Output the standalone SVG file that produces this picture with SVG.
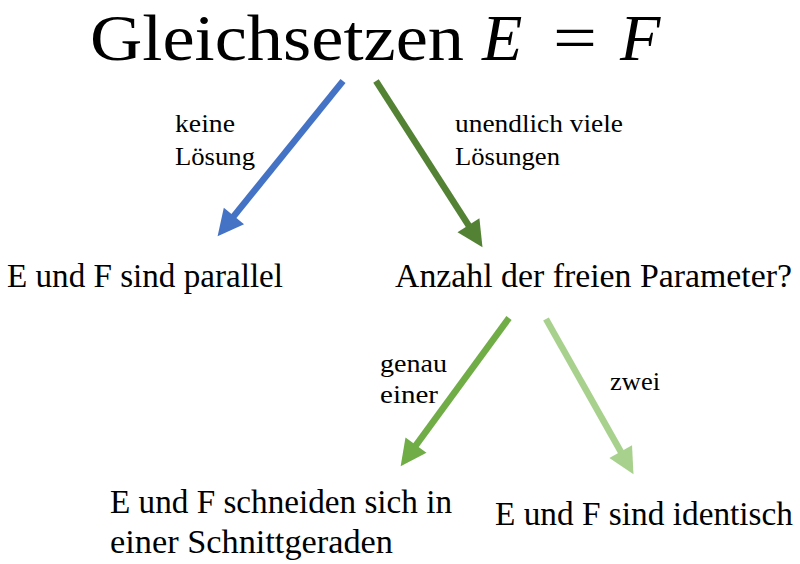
<svg xmlns="http://www.w3.org/2000/svg" width="800" height="564" viewBox="0 0 800 564">
<style>
text{font-family:"Liberation Serif","DejaVu Serif",serif;fill:#000}
.t{font-size:66px}
.m{font-style:italic}
.n{font-size:34px}
.l{font-size:25px}
.a{stroke-width:6.5;fill:none;stroke-linecap:butt}
</style>
<defs>
<marker id="hb" markerUnits="userSpaceOnUse" markerWidth="30" markerHeight="30" refX="1" refY="13" orient="auto" overflow="visible"><path d="M0,0 L26,13 L0,26 Z" fill="#4472C4"/></marker>
<marker id="hd" markerUnits="userSpaceOnUse" markerWidth="30" markerHeight="30" refX="1" refY="13" orient="auto" overflow="visible"><path d="M0,0 L26,13 L0,26 Z" fill="#548235"/></marker>
<marker id="hm" markerUnits="userSpaceOnUse" markerWidth="30" markerHeight="30" refX="1" refY="13" orient="auto" overflow="visible"><path d="M0,0 L26,13 L0,26 Z" fill="#70AD47"/></marker>
<marker id="hl" markerUnits="userSpaceOnUse" markerWidth="30" markerHeight="30" refX="1" refY="13" orient="auto" overflow="visible"><path d="M0,0 L26,13 L0,26 Z" fill="#A9D18E"/></marker>
</defs>
<rect width="800" height="564" fill="#fff"/>
<g id="title">
<text class="t" x="90" y="60" textLength="374" lengthAdjust="spacingAndGlyphs">Gleichsetzen</text>
<text class="t m" x="482" y="60">E</text>
<text class="t" x="553" y="60" textLength="44" lengthAdjust="spacingAndGlyphs">=</text>
<text class="t m" x="620" y="60">F</text>
</g>
<g id="connectors">
<line class="a" x1="343" y1="81" x2="233.3" y2="216.8" stroke="#4472C4" marker-end="url(#hb)"/>
<line class="a" x1="376" y1="81" x2="469" y2="226.1" stroke="#548235" marker-end="url(#hd)"/>
<line class="a" x1="509" y1="318" x2="415.4" y2="446" stroke="#70AD47" marker-end="url(#hm)"/>
<line class="a" x1="546" y1="319" x2="621.2" y2="452.4" stroke="#A9D18E" marker-end="url(#hl)"/>
<text class="l" x="175" y="132" textLength="60" lengthAdjust="spacingAndGlyphs">keine</text>
<text class="l" x="175" y="165" textLength="80" lengthAdjust="spacingAndGlyphs">Lösung</text>
<text class="l" x="455" y="132" textLength="168" lengthAdjust="spacingAndGlyphs">unendlich viele</text>
<text class="l" x="455" y="165" textLength="105" lengthAdjust="spacingAndGlyphs">Lösungen</text>
<text class="l" x="380" y="372" textLength="67" lengthAdjust="spacingAndGlyphs">genau</text>
<text class="l" x="380" y="403" textLength="58" lengthAdjust="spacingAndGlyphs">einer</text>
<text class="l" x="610" y="390" textLength="50" lengthAdjust="spacingAndGlyphs">zwei</text>
</g>
<g id="parallel">
<text class="n" x="7" y="287" textLength="276" lengthAdjust="spacingAndGlyphs">E und F sind parallel</text>
</g>
<g id="anzahl">
<text class="n" x="395" y="287" textLength="397" lengthAdjust="spacingAndGlyphs">Anzahl der freien Parameter?</text>
</g>
<g id="schneiden">
<text class="n" x="110" y="513" textLength="342" lengthAdjust="spacingAndGlyphs">E und F schneiden sich in</text>
<text class="n" x="110" y="553" textLength="283" lengthAdjust="spacingAndGlyphs">einer Schnittgeraden</text>
</g>
<g id="identisch">
<text class="n" x="495" y="525" textLength="298" lengthAdjust="spacingAndGlyphs">E und F sind identisch</text>
</g>
</svg>
